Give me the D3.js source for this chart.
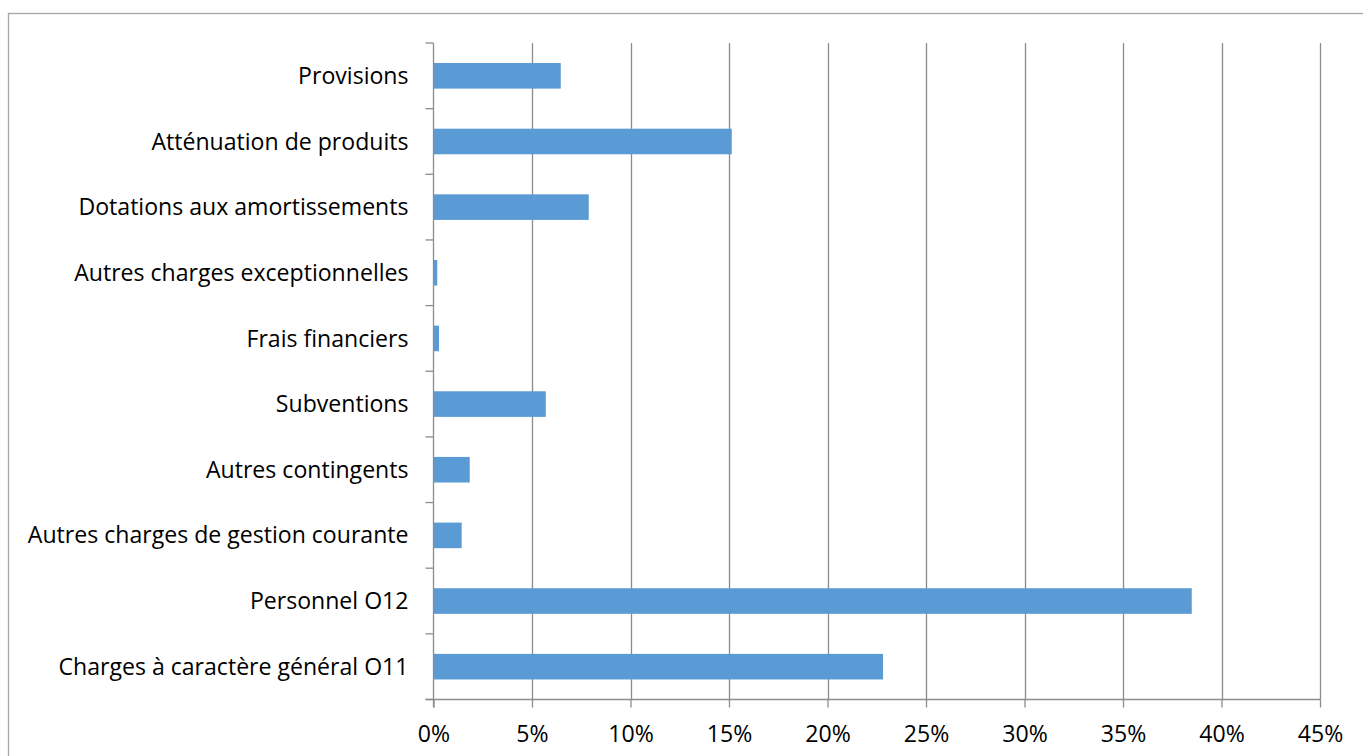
<!DOCTYPE html>
<html>
<head>
<meta charset="utf-8">
<script src="https://cdn.jsdelivr.net/npm/d3@7"></script>
<style>
  html, body { margin: 0; padding: 0; background: #fff; overflow: hidden; }
  svg { display: block; }
  text { font-family: "Open Sans", Lato, sans-serif; fill: #000; }
</style>
</head>
<body>
<svg id="chart" width="1363" height="756"></svg>
<script>
// Budget categories (top to bottom) and their share of total expenses, in %
const categories = [
  "Provisions",
  "Atténuation de produits",
  "Dotations aux amortissements",
  "Autres charges exceptionnelles",
  "Frais financiers",
  "Subventions ",
  "Autres contingents",
  "Autres charges de gestion courante",
  "Personnel O12",
  "Charges à caractère général O11"
];
const shares = [6.46, 15.14, 7.88, 0.19, 0.28, 5.70, 1.84, 1.43, 38.49, 22.82];
const xTicks = [0, 5, 10, 15, 20, 25, 30, 35, 40, 45];

const svg = d3.select("#chart");
const plotTop = 43, plotBottom = 699.5;
const gridColor = "#8c8c8c";

// outer chart frame (right and bottom edges fall outside the viewport)
svg.append("rect")
  .attr("x", 8.5).attr("y", 13.5)
  .attr("width", 1380).attr("height", 800)
  .attr("fill", "none").attr("stroke", "#a6a6a6").attr("stroke-width", 1.3);

const x = d3.scaleLinear().domain([0, 45]).range([433.5, 1320]);
const y = d3.scaleBand().domain(categories).range([plotTop, plotBottom]).paddingInner(0.61).paddingOuter(0.305);

// pick a label size so the longest category name spans ~381px
const probe = svg.append("text").attr("font-size", 20).text("Autres charges de gestion courante");
const fs = 20 * 381 / probe.node().getComputedTextLength();
probe.remove();

// vertical gridlines
svg.append("g")
  .selectAll("line")
  .data(xTicks.slice(1))
  .join("line")
  .attr("x1", d => Math.round(x(d)) + 0.5).attr("x2", d => Math.round(x(d)) + 0.5)
  .attr("y1", plotTop).attr("y2", plotBottom)
  .attr("stroke", gridColor).attr("stroke-width", 1.3);

// bars
svg.append("g")
  .selectAll("rect")
  .data(categories)
  .join("rect")
  .attr("x", x(0))
  .attr("y", d => y(d))
  .attr("width", (d, i) => x(shares[i]) - x(0))
  .attr("height", y.bandwidth())
  .attr("fill", "#5b9bd5");

// x axis
const xAxis = d3.axisBottom(x)
  .tickValues(xTicks)
  .tickFormat(d => d + "%")
  .tickSize(8)
  .tickPadding(14);
const gx = svg.append("g").attr("transform", `translate(0,${plotBottom})`).call(xAxis);
gx.select(".domain").attr("d", `M${x(0) - 8},0H${x(45)}`).attr("stroke", gridColor).attr("stroke-width", 1.3);
gx.selectAll(".tick line").attr("stroke", gridColor).attr("stroke-width", 1.3);
gx.selectAll(".tick text")
  .attr("font-size", fs)
  .attr("font-family", "'Open Sans', Lato, sans-serif")
  .attr("dy", "0.9em");

// y axis: ticks between categories
const gy = svg.append("g");
gy.append("line")
  .attr("x1", x(0)).attr("x2", x(0))
  .attr("y1", plotTop).attr("y2", plotBottom + 8)
  .attr("stroke", gridColor).attr("stroke-width", 1.3);
gy.selectAll("line.tk")
  .data(d3.range(categories.length + 1))
  .join("line")
  .attr("class", "tk")
  .attr("x1", x(0) - 8).attr("x2", x(0))
  .attr("y1", i => plotTop + i * (plotBottom - plotTop) / categories.length)
  .attr("y2", i => plotTop + i * (plotBottom - plotTop) / categories.length)
  .attr("stroke", gridColor).attr("stroke-width", 1.3);
gy.selectAll("text")
  .data(categories)
  .join("text")
  .attr("x", x(0) - 25)
  .attr("y", d => y(d) + y.bandwidth() / 2)
  .attr("dy", "0.35em")
  .attr("text-anchor", "end")
  .attr("font-size", fs)
  .text(d => d);
</script>
</body>
</html>
